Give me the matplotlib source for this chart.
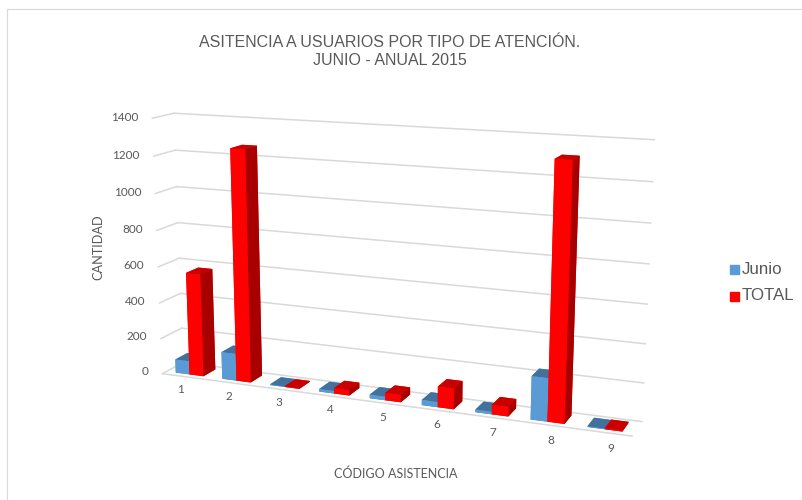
import matplotlib
matplotlib.use('Agg')
import numpy as np
import matplotlib.pyplot as plt
from matplotlib.patches import Rectangle

codes = ['1', '2', '3', '4', '5', '6', '7', '8', '9']
junio = [75, 150, 4, 14, 20, 28, 14, 225, 4]
total = [570, 1260, 4, 30, 40, 110, 50, 1310, 6]
yticks = [0, 200, 400, 600, 800, 1000, 1200, 1400]

colors_junio = ['#41719c', '#41719c', '#5b9bd5', '#5b9bd5', '#5b9bd5', '#41719c']
colors_total = ['#c00000', '#c80000', '#ff0000', '#ff0000', '#ff0000', '#a80000']

fig = plt.figure(figsize=(8.03, 5.0), dpi=100)
fig.add_artist(Rectangle((7 / 803, -0.01), 1, 0.992, transform=fig.transFigure,
                         fill=False, edgecolor='#d9d9d9', lw=0.8))

# axes box is forced square, so make it larger than the figure to avoid clipping
ax = fig.add_axes([-0.1308, -0.521, 1.2005, 1.928], projection='3d', facecolor='none')
ax.set_proj_type('persp', focal_length=0.27)
ax.view_init(elev=13.5, azim=-68)
ax.set_box_aspect((1.0, 0.085, 0.54), zoom=0.5855)
ax.set_axis_off()

n = len(codes)
ax.set_xlim(0, n)
ax.set_ylim(0, 1)
ax.set_zlim(0, 1400)

# back wall, side wall and floor lines
for t in yticks:
    ax.plot([0, n], [1, 1], [t, t], color='#d9d9d9', lw=1.1)
    ax.plot([0, 0], [0, 1], [t, t], color='#d9d9d9', lw=1.1)
ax.plot([0, n], [0, 0], [0, 0], color='#d9d9d9', lw=1.1)

bar_w = 0.3
pos = np.arange(n)
xs = np.concatenate([pos + 0.5 - bar_w, pos + 0.5])
ys = np.full(2 * n, 0.2)
zs = np.zeros(2 * n)
heights = np.array(junio + total, dtype=float)
cols = colors_junio * n + colors_total * n
ax.bar3d(xs, ys, zs, bar_w, 0.6, heights, color=cols, shade=False, edgecolor='none')

for t in yticks:
    ax.text(-0.3, 0, t, str(t), ha='right', va='center', fontsize=8.5,
            color='#595959', family='Lato')
for i, c in enumerate(codes):
    ax.text(i + 0.8, -0.9, 0, c, ha='center', va='center', fontsize=8.5,
            color='#595959', family='Lato')

fig.text(98 / 803, 1 - 247 / 500, 'CANTIDAD', rotation=90, ha='center', va='center',
         fontsize=9.2, color='#595959', family='Lato')
fig.text(396 / 803, 1 - 474 / 500, 'CÓDIGO ASISTENCIA', ha='center', va='center',
         fontsize=9, color='#595959', family='Lato')
fig.text(390 / 803, 1 - 51.5 / 500, 'ASITENCIA A USUARIOS POR TIPO DE ATENCIÓN.\nJUNIO - ANUAL 2015',
         ha='center', va='center', fontsize=11.5, color='#595959', family='Liberation Sans',
         linespacing=1.25)

# legend
for y, col, lab in [(269, '#5b9bd5', 'Junio'), (296, '#ff0000', 'TOTAL')]:
    fig.add_artist(Rectangle((730 / 803, 1 - (y + 4.5) / 500), 9 / 803, 9 / 500,
                             transform=fig.transFigure, color=col))
    fig.text(742 / 803, 1 - y / 500, lab, ha='left', va='center', fontsize=12.2,
             color='#595959', family='Liberation Sans')

fig.savefig('out.png', dpi=100)
